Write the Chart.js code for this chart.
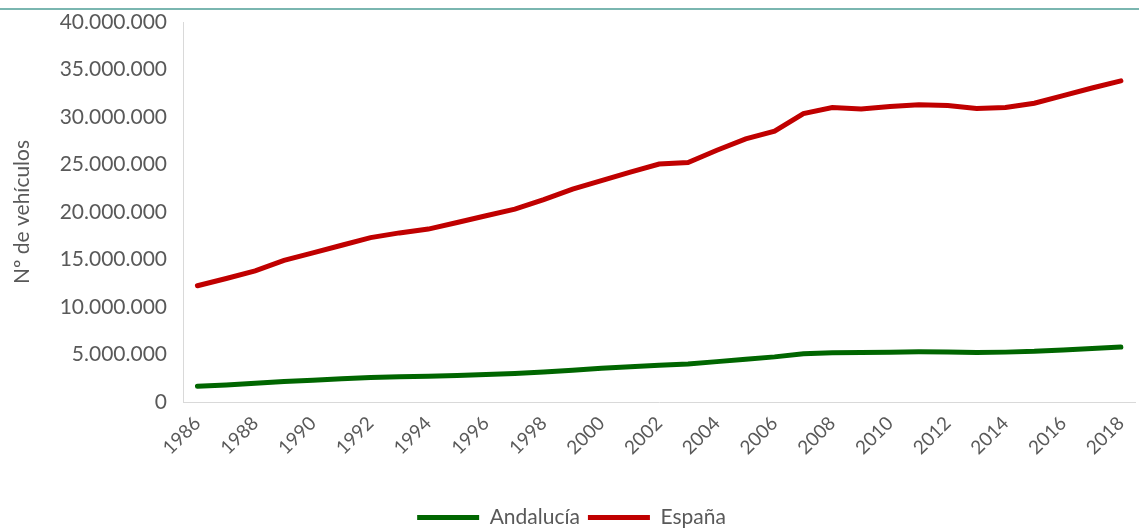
<!DOCTYPE html>
<html>
<head>
<meta charset="utf-8">
<script src="https://cdn.jsdelivr.net/npm/chart.js@4"></script>
<style>
    html, body { margin: 0; padding: 0; background: #fff; }
    #wrap { position: relative; width: 1139px; height: 528px; }
    #topline { position: absolute; left: 0; top: 8px; width: 1139px; height: 2px; background: #7ab6b0; }
</style>
</head>
<body>
<div id="wrap">
    <div id="topline"></div>
    <canvas id="vehChart" width="1139" height="528"></canvas>
</div>
<script>
// ═══ datos ═══
const years = [];
for (let y = 1986; y <= 2018; y++) years.push(String(y));

const andalucia = [
    1650000, 1800000, 1970000, 2150000, 2300000, 2450000, 2580000, 2650000, 2720000, 2800000,
    2900000, 3000000, 3150000, 3350000, 3550000, 3720000, 3880000, 4000000, 4250000, 4500000,
    4750000, 5080000, 5180000, 5200000, 5240000, 5280000, 5270000, 5220000, 5250000, 5330000,
    5480000, 5620000, 5780000
];

const espana = [
    12240000, 13000000, 13800000, 14900000, 15700000, 16500000, 17300000, 17800000, 18200000, 18900000,
    19600000, 20300000, 21300000, 22400000, 23300000, 24200000, 25050000, 25200000, 26500000, 27700000,
    28500000, 30350000, 31000000, 30850000, 31100000, 31300000, 31200000, 30900000, 31000000, 31450000,
    32250000, 33050000, 33800000
];

const yTicksMax  = 40000000;
const yTicksStep = 5000000;

const TXT  = '#595959';
const FONT = 'Lato, "Open Sans", sans-serif';

function fmtMiles(v) {
    return String(v).replace(/\B(?=(\d{3})+(?!\d))/g, '.');
}

const ctx = document.getElementById('vehChart').getContext('2d');

new Chart(ctx, {
    type: 'line',
    data: {
        labels: years,
        datasets: [
            {
                label: 'Andalucía',
                data: andalucia,
                borderColor: '#006600',
                backgroundColor: '#006600',
                borderWidth: 5,
                borderCapStyle: 'round',
                pointRadius: 0,
                tension: 0
            },
            {
                label: 'España',
                data: espana,
                borderColor: '#c00000',
                backgroundColor: '#c00000',
                borderWidth: 5,
                borderCapStyle: 'round',
                pointRadius: 0,
                tension: 0
            }
        ]
    },
    options: {
        responsive: false,
        animation: false,
        layout: { padding: { top: 22, right: -4, left: 0, bottom: -10 } },
        scales: {
            x: {
                offset: true,
                grid: { display: false },
                border: { display: true, color: '#d9d9d9', width: 1 },
                ticks: {
                    color: TXT,
                    font: { family: FONT, size: 19 },
                    autoSkip: false,
                    maxRotation: 45,
                    minRotation: 45,
                    padding: 2,
                    callback: function (v, i) { return i % 2 === 0 ? this.getLabelForValue(v) : ''; }
                },
                afterFit: s => { s.height = 97; }
            },
            y: {
                min: 0,
                max: yTicksMax,
                grid: { display: false },
                border: { display: true, color: '#d9d9d9', width: 1 },
                ticks: {
                    stepSize: yTicksStep,
                    color: TXT,
                    font: { family: FONT, size: 21 },
                    padding: 8,
                    callback: v => fmtMiles(v)
                },
                title: {
                    display: true,
                    text: 'Nº de vehículos',
                    color: TXT,
                    font: { family: FONT, size: 21 },
                    padding: { top: 10, bottom: 0 }
                },
                afterFit: s => { s.width = 183; }
            }
        },
        plugins: {
            tooltip: { enabled: false },
            legend: {
                position: 'bottom',
                labels: {
                    color: TXT,
                    font: { family: FONT, size: 21 },
                    usePointStyle: true,
                    pointStyle: 'line',
                    pointStyleWidth: 62,
                    padding: 8
                }
            }
        }
    }
});
</script>
</body>
</html>
